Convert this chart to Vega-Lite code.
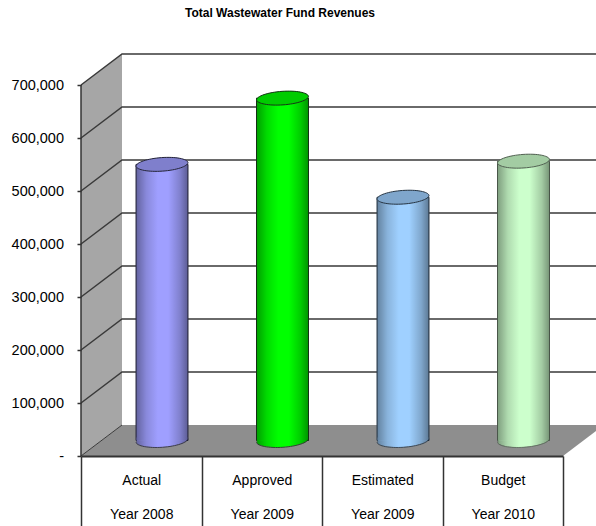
{
"$schema":"https://vega.github.io/schema/vega-lite/v6.json",
"autosize":"none",
"padding":{"left":81,"top":54,"right":0,"bottom":70},
"width":515,"height":402,
"background":"white",
"title":{"text":"Total Wastewater Fund Revenues","anchor":"start","frame":"group","dx":104,"offset":31,"font":"Liberation Sans","fontSize":12,"fontWeight":"bold","color":"#000000"},
"config":{"view":{"stroke":null}},
"datasets":{
"bars":[
{"category":"Actual|Year 2008","revenue":521000},
{"category":"Approved|Year 2009","revenue":646000},
{"category":"Estimated|Year 2009","revenue":459000},
{"category":"Budget|Year 2010","revenue":527000}],
"ticks":[{"tick":0},{"tick":100000},{"tick":200000},{"tick":300000},{"tick":400000},{"tick":500000},{"tick":600000},{"tick":700000}]
},
"layer":[
{"data":{"name":"ticks"},"transform":[{"filter":"datum.tick==0"}],
"mark":{"type":"point","filled":true,"opacity":1,"size":4,"fill":"#a6a6a6","strokeWidth":0,"shape":"M0 0L41 -31L41 -402L0 -371Z"},
"encoding":{
"x":{"datum":"Actual|Year 2008","type":"nominal","bandPosition":0,
"scale":{"type":"band","domain":["Actual|Year 2008","Approved|Year 2009","Estimated|Year 2009","Budget|Year 2010"],"range":[0,482],"paddingInner":0,"paddingOuter":0},
"axis":{"title":null,"orient":"bottom","zindex":1,"domainColor":"#333333","domainWidth":2,"tickColor":"#333333","tickWidth":1.5,"tickSize":70,"tickBand":"extent","labelAngle":0,"labelPadding":-53,"labelExpr":"isValid(datum.value)?split(datum.value,'|'):''","labelLineHeight":34,"labelFont":"Liberation Sans","labelFontSize":14,"labelColor":"#000000","labelBaseline":"top","labelAlign":"center"}},
"y":{"field":"tick","type":"quantitative","scale":{"domain":[0,758491],"nice":false,"zero":true},
"axis":{"title":null,"values":[0,100000,200000,300000,400000,500000,600000,700000],"labelExpr":"datum.value==0?'-':format(datum.value,',')","domain":false,"grid":false,"tickColor":"#333333","tickWidth":1.5,"tickSize":4,"labelPadding":13.5,"labelFont":"Liberation Sans","labelFontSize":14.5,"labelColor":"#000000","zindex":1}}
}},
{"data":{"name":"ticks"},"transform":[{"filter":"datum.tick==0"}],
"mark":{"type":"point","filled":true,"opacity":1,"size":4,"fill":"#8e8e8e","strokeWidth":0,"shape":"M0 0L482 0L523 -31L41 -31Z"},
"encoding":{"x":{"datum":"Actual|Year 2008","type":"nominal","bandPosition":0},"y":{"field":"tick","type":"quantitative"}}},
{"data":{"name":"ticks"},"transform":[{"filter":"datum.tick>0"}],
"mark":{"type":"point","filled":false,"opacity":1,"size":4,"stroke":"#3a3a3a","strokeWidth":1.5,"shape":"M0 0L41 -31L516 -31"},
"encoding":{"x":{"datum":"Actual|Year 2008","type":"nominal","bandPosition":0},"y":{"field":"tick","type":"quantitative"}}},
{"data":{"name":"ticks"},"transform":[{"filter":"datum.tick==0"}],
"mark":{"type":"point","filled":false,"opacity":1,"size":4,"stroke":"#3a3a3a","strokeWidth":1,"shape":"M0 0L41 -31"},
"encoding":{"x":{"datum":"Actual|Year 2008","type":"nominal","bandPosition":0},"y":{"field":"tick","type":"quantitative"}}},
{"data":{"values":[{"from":0,"to":700000}]},
"mark":{"type":"rule","color":"#333333","strokeWidth":1.5},
"encoding":{"x":{"datum":"Actual|Year 2008","type":"nominal","bandPosition":0},"y":{"field":"from","type":"quantitative"},"y2":{"field":"to"}}},
{"data":{"name":"bars"},
"mark":{"type":"bar","size":52,"strokeWidth":1,"xOffset":20.75,"x2Offset":20.75,"yOffset":-15.5,"y2Offset":-15.5},
"encoding":{
"x":{"field":"category","type":"nominal"},
"y":{"field":"revenue","type":"quantitative"},
"fill":{"field":"category","type":"nominal","legend":null,"scale":{"domain":["Actual|Year 2008","Approved|Year 2009","Estimated|Year 2009","Budget|Year 2010"],"range":["#9f9fff","#00ff00","#9fd0ff","#ccffcc"]}},
"stroke":{"field":"category","type":"nominal","legend":null,"scale":{"domain":["Actual|Year 2008","Approved|Year 2009","Estimated|Year 2009","Budget|Year 2010"],"range":["#2a2a40","#1a3a1a","#2a3a4a","#5a6a5a"]}}
}},
{"data":{"name":"bars"},
"mark":{"type":"point","filled":true,"opacity":1,"size":2704,"strokeWidth":0,"xOffset":20.75,"yOffset":-15.5,"shape":"M-0.975 -0.12L0.975 -0.12L0.975 -0.03A1 0.27 -4 0 1 -0.975 0.1Z"},
"encoding":{
"x":{"field":"category","type":"nominal"},
"y":{"datum":0,"type":"quantitative"},
"fill":{"field":"category","type":"nominal","legend":null}
}},
{"data":{"name":"bars"},
"mark":{"type":"bar","size":52,"strokeWidth":0,"xOffset":20.75,"x2Offset":20.75,"yOffset":-15.5,"y2Offset":-15.5,
"fill":{"gradient":"linear","x1":0,"x2":1,"y1":0,"y2":0,"stops":[{"offset":0,"color":"rgba(0,0,0,0.38)"},{"offset":0.2,"color":"rgba(0,0,0,0.14)"},{"offset":0.42,"color":"rgba(0,0,0,0)"},{"offset":0.62,"color":"rgba(0,0,0,0)"},{"offset":0.85,"color":"rgba(0,0,0,0.2)"},{"offset":1,"color":"rgba(0,0,0,0.42)"}]}},
"encoding":{
"x":{"field":"category","type":"nominal"},
"y":{"field":"revenue","type":"quantitative"}
}},
{"data":{"name":"bars"},
"mark":{"type":"point","filled":true,"opacity":1,"size":2704,"strokeWidth":0,"xOffset":20.75,"yOffset":-15.5,"shape":"M-1 0L1 0L1 -0.07A1.003 0.27 -4 0 1 -1 0.07Z",
"fill":{"gradient":"linear","x1":0,"x2":1,"y1":0,"y2":0,"stops":[{"offset":0,"color":"rgba(0,0,0,0.38)"},{"offset":0.2,"color":"rgba(0,0,0,0.14)"},{"offset":0.42,"color":"rgba(0,0,0,0)"},{"offset":0.62,"color":"rgba(0,0,0,0)"},{"offset":0.85,"color":"rgba(0,0,0,0.2)"},{"offset":1,"color":"rgba(0,0,0,0.42)"}]}},
"encoding":{
"x":{"field":"category","type":"nominal"},
"y":{"datum":0,"type":"quantitative"}
}},
{"data":{"name":"bars"},
"mark":{"type":"point","filled":false,"opacity":0.8,"size":2704,"strokeWidth":1,"xOffset":20.75,"yOffset":-15.5,"shape":"M-1 0.07A1.003 0.27 -4 0 0 1 -0.07"},
"encoding":{
"x":{"field":"category","type":"nominal"},
"y":{"datum":0,"type":"quantitative"},
"stroke":{"field":"category","type":"nominal","legend":null}
}},
{"data":{"name":"bars"},
"mark":{"type":"point","filled":true,"opacity":1,"size":2704,"strokeWidth":1,"xOffset":20.75,"yOffset":-15.5,"shape":"M-1 0.07A1.003 0.27 -4 0 1 1 -0.07A1.003 0.27 -4 0 1 -1 0.07Z"},
"encoding":{
"x":{"field":"category","type":"nominal"},
"y":{"field":"revenue","type":"quantitative"},
"fill":{"field":"category","type":"nominal","legend":null},
"stroke":{"field":"category","type":"nominal","legend":null}
}},
{"data":{"name":"bars"},
"mark":{"type":"point","filled":true,"opacity":0.2,"size":2704,"strokeWidth":0,"fill":"#000000","xOffset":20.75,"yOffset":-15.5,"shape":"M-1 0.07A1.003 0.27 -4 0 1 1 -0.07A1.003 0.27 -4 0 1 -1 0.07Z"},
"encoding":{
"x":{"field":"category","type":"nominal"},
"y":{"field":"revenue","type":"quantitative"}
}}
]
}
